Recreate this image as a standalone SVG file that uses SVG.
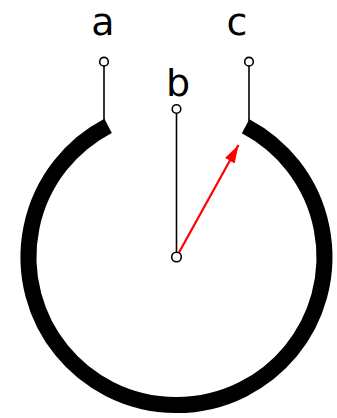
<svg xmlns="http://www.w3.org/2000/svg" width="337" height="418" viewBox="0 0 337 418">
<defs>
<style>
.lbl{font-family:"DejaVu Sans",Verdana,sans-serif;font-size:38px;fill:#000;text-anchor:middle}
.wire{stroke:#000;stroke-width:1.6;fill:none}
.term{fill:#fff;stroke:#000;stroke-width:1.6}
</style>
<marker id="ah" markerUnits="userSpaceOnUse" markerWidth="20" markerHeight="12" refX="18" refY="5.5" orient="auto">
<path d="M0,0 L18,5.5 L0,11 z" fill="#ff0000"/>
</marker>
</defs>
<rect width="337" height="418" fill="#fff"/>
<g id="winding">
<path d="M108.1,125.8 A148,148 0 1 0 245.6,126.2" fill="none" stroke="#000" stroke-width="16"/>
</g>
<g id="connectors">
<line class="wire" x1="104" y1="61.7" x2="104" y2="121"/>
<line class="wire" x1="249" y1="61.7" x2="249" y2="121"/>
<line class="wire" x1="176.5" y1="109" x2="176.5" y2="257"/>
<line x1="176.5" y1="257" x2="238.5" y2="145" stroke="#ff0000" stroke-width="2.2" marker-end="url(#ah)"/>
</g>
<g id="node-a">
<circle class="term" cx="104" cy="61.7" r="4.3"/>
<text class="lbl" x="103" y="35">a</text>
</g>
<g id="node-b">
<circle class="term" cx="176.5" cy="109" r="4.3"/>
<text class="lbl" x="178" y="96">b</text>
</g>
<g id="node-c">
<circle class="term" cx="249" cy="61.7" r="4.3"/>
<text class="lbl" x="237" y="35">c</text>
</g>
<g id="node-center">
<circle class="term" cx="176.5" cy="257" r="4.8"/>
</g>
</svg>
